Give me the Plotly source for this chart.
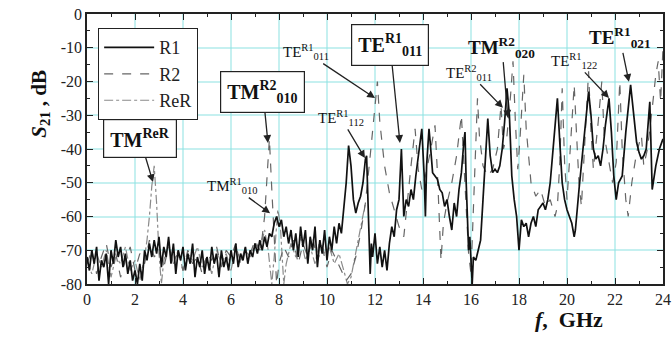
import plotly.graph_objects as go

# ---------------- data ----------------
r1_f = [0.0,0.1,0.2,0.3,0.4,0.5,0.6,0.7,0.8,0.9,
        1.0,1.1,1.2,1.3,1.4,1.5,1.6,1.7,1.8,1.9,
        2.0,2.1,2.2,2.3,2.4,2.5,2.6,2.7,2.8,2.9,
        3.0,3.1,3.2,3.3,3.4,3.5,3.6,3.7,3.8,3.9,
        4.0,4.1,4.2,4.3,4.4,4.5,4.6,4.7,4.8,4.9,
        5.0,5.1,5.2,5.3,5.4,5.5,5.6,5.7,5.8,5.9,
        6.0,6.1,6.2,6.3,6.4,6.5,6.6,6.7,6.8,6.9,
        7.0,7.1,7.2,7.3,7.4,7.5,7.6,7.7,7.8,7.9,
        8.0,8.1,8.2,8.3,8.4,8.5,8.6,8.7,8.8,8.9,
        9.0,9.1,9.2,9.3,9.4,9.5,9.6,9.7,9.8,9.9,
        10.0,10.1,10.2,10.3,10.4,10.5,10.6,10.7,10.8,10.9,
        11.0,11.1,11.2,11.3,11.4,11.5,11.6,11.65,11.7,11.75,11.8,11.85,11.9,
        12.0,12.1,12.2,12.3,12.4,12.5,12.6,12.7,12.8,12.9,
        13.0,13.05,13.1,13.15,13.2,13.3,13.4,13.5,13.6,13.7,13.8,13.9,13.95,
        14.05,14.1,14.15,14.25,14.3,14.4,14.5,14.6,14.7,14.8,14.9,
        15.0,15.1,15.2,15.3,15.4,15.5,15.6,15.7,15.75,15.8,15.9,15.95,
        16.0,16.05,16.1,16.2,16.3,16.4,16.5,16.6,16.7,16.8,16.9,
        17.0,17.1,17.2,17.3,17.4,17.5,17.6,17.7,17.8,17.9,
        18.0,18.05,18.1,18.2,18.3,18.4,18.5,18.6,18.7,18.8,18.9,
        19.0,19.1,19.2,19.3,19.4,19.5,19.6,19.7,19.8,19.9,
        20.0,20.1,20.2,20.3,20.35,20.5,20.7,20.9,
        21.0,21.1,21.2,21.3,21.4,21.5,21.6,21.75,21.85,21.95,
        22.05,22.15,22.3,22.45,22.65,22.8,22.9,
        23.0,23.1,23.2,23.3,23.45,23.55,23.7,23.85,24.0]
r1_db = [-72,-76,-70,-74,-69,-79,-73,-75,-71,-80,
         -70,-74,-67,-72,-69,-75,-71,-77,-73,-79,
         -76,-80,-74,-79,-70,-73,-68,-72,-67,-71,
         -66,-75,-69,-72,-66,-74,-68,-77,-70,-73,
         -69,-76,-71,-74,-68,-78,-72,-75,-70,-77,
         -72,-76,-69,-74,-71,-78,-70,-75,-72,-76,
         -70,-74,-68,-75,-71,-73,-69,-74,-70,-72,
         -68,-71,-67,-70,-66,-69,-65,-66,-62,-60,
         -63,-61,-66,-63,-68,-64,-70,-65,-72,-63,
         -69,-64,-74,-66,-70,-63,-75,-67,-71,-64,
         -73,-66,-70,-63,-68,-62,-65,-58,-50,-39,
         -45,-55,-59,-56,-54,-50,-43,-42,-55,-70,-77,-68,-72,
         -65,-74,-69,-75,-70,-76,-68,-63,-66,-58,
         -55,-45,-40,-50,-60,-55,-57,-52,-55,-48,-42,-36,-34,
         -48,-60,-45,-34,-38,-47,-48,-49,-52,-53,-57,
         -55,-60,-64,-56,-60,-52,-47,-38,-35,-50,-70,-66,
         -75,-80,-72,-73,-70,-67,-55,-43,-31,-42,-47,
         -46,-47,-45,-40,-32,-22,-30,-48,-55,-60,
         -70,-64,-61,-63,-62,-66,-62,-60,-63,-58,-57,
         -56,-58,-55,-50,-42,-32,-25,-38,-50,-55,
         -58,-60,-62,-66,-64,-52,-38,-23,
         -30,-40,-43,-42,-45,-40,-33,-25,-35,-48,
         -55,-50,-48,-35,-21,-32,-38,
         -41,-43,-42,-40,-26,-52,-45,-40,-37]

r2_f = [0.0,0.2,0.4,0.6,0.8,1.0,1.2,1.4,1.6,1.8,2.0,2.2,2.4,2.6,2.8,3.0,3.2,3.4,3.6,3.8,
        4.0,4.2,4.4,4.6,4.8,5.0,5.2,5.4,5.6,5.8,6.0,6.2,6.4,6.6,6.8,7.0,7.2,
        7.3,7.4,7.5,7.6,7.7,7.8,7.9,8.0,8.2,8.4,8.6,8.8,9.0,9.2,9.4,9.6,9.8,
        10.0,10.2,10.4,10.6,10.8,11.0,11.2,11.4,11.6,11.8,12.0,12.1,12.2,12.4,12.6,12.8,
        13.0,13.2,13.35,13.5,13.67,13.8,13.95,14.1,14.3,14.5,14.6,14.7,14.75,14.85,
        15.0,15.2,15.4,15.6,15.7,15.8,15.9,16.0,16.1,16.2,16.27,16.35,16.5,16.7,16.9,
        17.1,17.25,17.35,17.5,17.65,17.75,17.85,17.95,18.05,18.2,18.3,18.5,18.7,18.9,
        19.1,19.3,19.5,19.6,19.7,19.8,19.9,20.0,20.1,20.3,20.4,20.5,20.6,20.7,20.9,
        21.0,21.1,21.3,21.45,21.55,21.7,21.9,22.05,22.2,22.3,22.45,22.55,22.7,22.9,
        23.1,23.2,23.35,23.55,23.7,23.8,23.9,24.0]
r2_db = [-74,-70,-77,-72,-68,-75,-71,-78,-73,-69,-76,-71,-74,-67,-72,-70,-75,-69,-73,-71,
         -76,-70,-74,-72,-77,-71,-73,-69,-75,-70,-72,-68,-74,-69,-71,-67,-70,
         -66,-60,-48,-37,-52,-68,-80,-74,-69,-72,-67,-74,-68,-72,-66,-73,-69,
         -75,-70,-73,-76,-79,-77,-72,-65,-56,-42,-27,-20,-32,-45,-53,-58,
         -63,-66,-55,-45,-34,-46,-52,-48,-41,-33,-47,-62,-73,-62,
         -56,-50,-42,-30,-44,-60,-71,-77,-56,-36,-25,-36,-45,-48,-46,
         -40,-27,-40,-36,-24,-14,-32,-46,-36,-18,-34,-50,-54,-52,
         -57,-55,-60,-57,-44,-22,-44,-55,-44,-21,-36,-50,-57,-44,-17,
         -35,-46,-32,-20,-36,-42,-50,-44,-20,-40,-55,-60,-50,-41,
         -36,-45,-40,-28,-18,-14,-26,-10]

rer_f = [0.0,0.2,0.4,0.6,0.8,1.0,1.2,1.4,1.6,1.8,2.0,2.2,2.4,
         2.5,2.6,2.7,2.8,2.9,3.0,3.1,3.2,3.4,3.6,3.8,4.0,4.2,4.4,4.6,4.8,
         5.0,5.2,5.4,5.6,5.8,6.0,6.2,6.4,6.6,6.8,7.0,7.2,7.4,7.55,7.7,7.8,7.95,
         8.05,8.2,8.3,8.5,8.7,8.9,9.1,9.3,9.5,9.7,9.9,10.1,10.3,10.5,10.7,10.85,
         11.0,11.2,11.4,11.6]
rer_db = [-73,-77,-71,-75,-70,-78,-72,-74,-69,-76,-73,-79,-72,
          -67,-60,-51,-45,-56,-71,-80,-73,-68,-74,-70,-76,-71,-73,-69,-75,
          -72,-77,-70,-74,-71,-76,-69,-73,-70,-72,-68,-70,-64,-70,-80,-72,-58,
          -62,-80,-74,-68,-72,-66,-73,-69,-74,-67,-71,-69,-74,-71,-76,-80,
          -78,-71,-63,-56]

x_ticks = [0, 2, 4, 6, 8, 10, 12, 14, 16, 18, 20, 22, 24]
y_ticks = [0, -10, -20, -30, -40, -50, -60, -70, -80]

# annotations: (text, text_x, text_y, tip_x, tip_y, bold, boxed, size)
labels = [
    ("TM<sup>ReR</sup>", 2.21, -37.0, 2.75, -49.8, True, True, 20),
    ("TM<sup>R2</sup><sub>010</sub>", 7.33, -23.1, 7.54, -38.2, True, True, 20),
    ("TM<sup>R1</sup><sub>010</sub>", 6.08, -51.0, 7.63, -59.0, False, False, 15),
    ("TE<sup>R1</sup><sub>112</sub>", 10.58, -30.8, 11.58, -42.7, False, False, 15),
    ("TE<sup>R1</sup><sub>011</sub>", 9.12, -11.3, 12.0, -24.9, False, False, 15),
    ("TE<sup>R1</sup><sub>011</sub>", 12.63, -9.2, 13.04, -38.2, True, True, 20),
    ("TM<sup>R2</sup><sub>020</sub>", 17.29, -9.8, 17.54, -30.8, True, False, 19),
    ("TE<sup>R2</sup><sub>011</sub>", 15.92, -17.4, 17.33, -27.8, False, False, 15),
    ("TE<sup>R1</sup><sub>122</sub>", 20.29, -13.9, 21.75, -24.9, False, False, 15),
    ("TE<sup>R1</sup><sub>021</sub>", 22.2, -7.1, 22.58, -20.1, True, False, 19),
]

FONT = "Liberation Serif"

fig = go.Figure()
fig.add_trace(go.Scatter(x=rer_f, y=rer_db, mode="lines", name="ReR",
                         line=dict(color="#8a8a8a", width=1.2, dash="dashdot")))
fig.add_trace(go.Scatter(x=r2_f, y=r2_db, mode="lines", name="R2",
                         line=dict(color="#666666", width=1.2, dash="dash")))
fig.add_trace(go.Scatter(x=r1_f, y=r1_db, mode="lines", name="R1",
                         line=dict(color="#111111", width=1.7)))

anns = []
for txt, tx, ty, px, py, bold, boxed, size in labels:
    a = dict(x=px, y=py, ax=tx, ay=ty, xref="x", yref="y", axref="x", ayref="y",
             text=("<b>%s</b>" % txt) if bold else txt,
             showarrow=True, arrowhead=2, arrowsize=1.2, arrowwidth=1.3,
             arrowcolor="#222222",
             font=dict(family=FONT, size=size, color="#111111"))
    if boxed:
        a.update(bordercolor="#222222", borderwidth=1.2, borderpad=6,
                 bgcolor="white")
    anns.append(a)

anns.append(dict(xref="paper", yref="paper", x=-0.108, y=0.80,
                 text="<b><i>S</i><sub>21</sub> , dB</b>", textangle=-90,
                 showarrow=False, font=dict(family=FONT, size=21, color="#111111")))
anns.append(dict(xref="paper", yref="paper", x=0.9, y=-0.185,
                 text="<b><i>f</i>,  GHz</b>",
                 showarrow=False, font=dict(family=FONT, size=22, color="#111111")))

fig.update_layout(
    width=672, height=344,
    margin=dict(l=87, r=9, t=14, b=60, autoexpand=False),
    paper_bgcolor="white", plot_bgcolor="white",
    font=dict(family=FONT, color="#222222"),
    showlegend=True,
    legend=dict(x=0.019, y=0.948, xanchor="left", yanchor="top",
                bgcolor="white", bordercolor="#222222", borderwidth=1.2,
                traceorder="reversed", font=dict(family=FONT, size=18, color="#222222"),
                itemwidth=50),
    annotations=anns,
)
fig.update_xaxes(range=[0, 24], tickvals=x_ticks, ticktext=[str(v) for v in x_ticks],
                 automargin=False,
                 showline=True, linecolor="#222222", linewidth=1.5, mirror="ticks",
                 ticks="inside", ticklen=6, tickcolor="#222222",
                 minor=dict(dtick=1, ticks="inside", ticklen=3, tickcolor="#222222", showgrid=False),
                 showgrid=True, gridcolor="rgba(140,225,225,0.5)", gridwidth=2,
                 zeroline=False, tickfont=dict(family=FONT, size=16, color="#222222"))
fig.update_yaxes(range=[-80, 0], tickvals=y_ticks, ticktext=[str(v) for v in y_ticks],
                 automargin=False,
                 showline=True, linecolor="#222222", linewidth=1.5, mirror="ticks",
                 ticks="inside", ticklen=6, tickcolor="#222222",
                 minor=dict(dtick=5, ticks="inside", ticklen=3, tickcolor="#222222", showgrid=False),
                 showgrid=True, gridcolor="rgba(140,225,225,0.5)", gridwidth=2,
                 zeroline=False, tickfont=dict(family=FONT, size=16, color="#222222"))

fig.write_html("out.html", config={"displayModeBar": False},
               post_script="document.body.style.margin='0';document.body.style.overflow='hidden';")
